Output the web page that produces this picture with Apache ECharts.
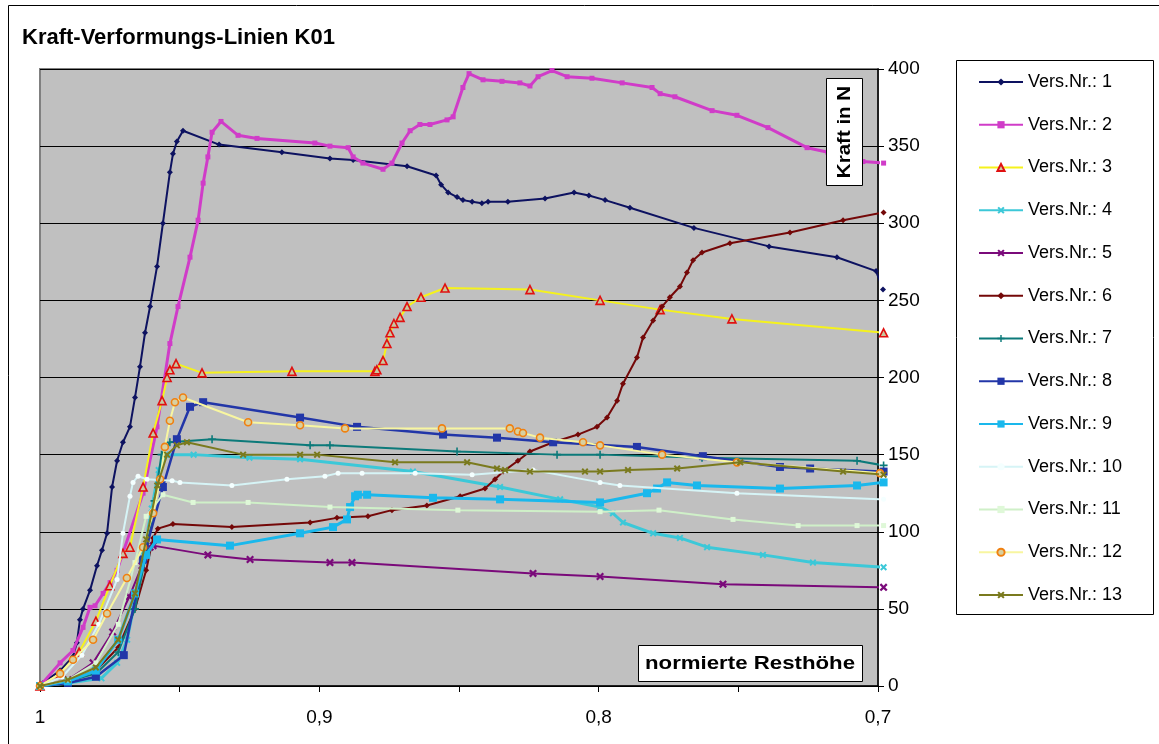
<!DOCTYPE html>
<html><head><meta charset="utf-8">
<script src="https://cdn.jsdelivr.net/npm/echarts@6/dist/echarts.min.js"></script>
<style>html,body{margin:0;padding:0;background:#fff}#c{width:1159px;height:744px}</style>
</head><body><div id="c"></div>
<script>
// ---- data: [normierte Resthöhe, Kraft in N] ----
const seriesNames = ['Vers.Nr.: 1','Vers.Nr.: 2','Vers.Nr.: 3','Vers.Nr.: 4','Vers.Nr.: 5','Vers.Nr.: 6','Vers.Nr.: 7','Vers.Nr.: 8','Vers.Nr.: 9','Vers.Nr.: 10','Vers.Nr.: 11','Vers.Nr.: 12','Vers.Nr.: 13'];
const xTicks = [1, 0.95, 0.9, 0.85, 0.8, 0.75, 0.7];
const yTicks = [0, 50, 100, 150, 200, 250, 300, 350, 400];

const s1 = [[1,0],[0.9989,2],[0.9928,10],[0.9882,19],[0.9868,28],[0.9857,43],[0.9846,50],[0.9821,62],[0.9796,78],[0.9778,88],[0.9760,99],[0.9742,129],[0.9724,146],[0.9703,158],[0.9678,168],[0.9660,187],[0.9642,207],[0.9624,229],[0.9606,246],[0.9581,272],[0.9560,300],[0.9535,333],[0.9524,345],[0.9510,353],[0.9488,360],[0.9359,351],[0.9134,346],[0.8962,342],[0.8879,341],[0.8686,337],[0.8582,331],[0.8564,325],[0.8539,320],[0.8507,317],[0.8486,315],[0.8453,314],[0.8418,313],[0.8396,314],[0.8325,314],[0.8192,316],[0.8088,320],[0.8035,318],[0.7977,315],[0.7888,310],[0.7659,297],[0.7390,285],[0.7147,278],[0.7007,269],[0.6982,257]];
const s2 = [[1,0],[0.9928,15],[0.9882,23],[0.9846,38],[0.9821,51],[0.9803,52],[0.9774,60],[0.9749,67],[0.9724,75],[0.9631,125],[0.9581,168],[0.9535,222],[0.9506,246],[0.9463,278],[0.9434,302],[0.9416,326],[0.9399,343],[0.9384,359],[0.9352,366],[0.9291,357],[0.9223,355],[0.9016,352],[0.8962,350],[0.8897,349],[0.8879,343],[0.8844,339],[0.8772,335],[0.8740,339],[0.8704,352],[0.8675,360],[0.8640,364],[0.8604,364],[0.8543,367],[0.8521,369],[0.8486,388],[0.8464,397],[0.8414,393],[0.8346,392],[0.8282,391],[0.8246,389],[0.8217,395],[0.8167,399],[0.8113,395],[0.8024,394],[0.7916,391],[0.7809,388],[0.7780,384],[0.7727,382],[0.7594,373],[0.7505,370],[0.7394,362],[0.7254,349],[0.7179,346],[0.7054,340],[0.698,339]];
const s3 = [[1,0],[0.9928,8],[0.986,22],[0.980,42],[0.975,65],[0.9703,86],[0.9678,90],[0.9631,129],[0.9595,164],[0.9563,185],[0.9545,200],[0.9535,205],[0.9513,209],[0.9420,203],[0.9098,204],[0.8801,204],[0.8794,205],[0.8772,211],[0.8758,222],[0.8747,229],[0.8733,235],[0.8711,239],[0.8686,246],[0.8636,252],[0.8550,258],[0.8246,257],[0.7995,250],[0.7780,244],[0.7523,238],[0.698,229]];
const s4 = [[1,0],[0.99,2],[0.978,5],[0.9724,15],[0.9688,30],[0.9660,55],[0.9630,85],[0.9600,115],[0.9575,140],[0.9550,150],[0.945,150],[0.925,148],[0.9069,147],[0.8665,139],[0.8353,129],[0.8138,121],[0.7995,116],[0.7949,112],[0.7913,106],[0.7805,99],[0.7709,96],[0.7612,90],[0.7412,85],[0.7233,80],[0.698,77]];
const s5 = [[1,0],[0.99,4],[0.981,15],[0.974,35],[0.968,58],[0.9635,78],[0.9606,90],[0.9595,91],[0.9399,85],[0.9248,82],[0.8962,80],[0.8883,80],[0.8235,73],[0.7995,71],[0.7555,66],[0.698,64]];
const s6 = [[1,0],[0.99,3],[0.98,10],[0.972,25],[0.966,50],[0.962,75],[0.9595,96],[0.9578,102],[0.9524,105],[0.9313,103],[0.9033,106],[0.8937,109],[0.8826,110],[0.8740,114],[0.8615,117],[0.8496,123],[0.8407,128],[0.8371,134],[0.8342,139],[0.8289,146],[0.8246,152],[0.8163,158],[0.8074,163],[0.8006,168],[0.7970,174],[0.7934,185],[0.7913,196],[0.7863,213],[0.7841,226],[0.7805,237],[0.7773,246],[0.7745,252],[0.7709,259],[0.7684,268],[0.7662,276],[0.7630,281],[0.7530,287],[0.7315,294],[0.7125,302],[0.698,307]];
const s7 = [[1,0],[0.99,3],[0.98,8],[0.972,22],[0.966,50],[0.962,85],[0.959,120],[0.9565,150],[0.9535,158],[0.9384,160],[0.9033,156],[0.8962,156],[0.8507,152],[0.8149,150],[0.7995,150],[0.7630,148],[0.7075,146],[0.698,143]];
const s8 = [[1,0],[0.99,2],[0.98,6],[0.97,20],[0.9631,82],[0.9560,129],[0.9510,160],[0.9463,181],[0.9416,184],[0.9069,174],[0.8865,168],[0.8557,163],[0.8364,161],[0.8163,158],[0.7863,155],[0.7627,149],[0.7351,142],[0.7243,141],[0.698,139]];
const s9 = [[1,0],[0.99,3],[0.98,10],[0.972,30],[0.966,60],[0.9620,85],[0.9581,95],[0.9320,91],[0.9069,99],[0.8951,103],[0.8901,108],[0.8890,116],[0.8872,123],[0.8862,124],[0.8829,124],[0.8593,122],[0.8353,121],[0.7995,119],[0.7827,125],[0.7791,128],[0.7755,132],[0.7648,130],[0.7351,128],[0.7075,130],[0.698,132]];
const s10 = [[1,0],[0.992,6],[0.985,20],[0.979,40],[0.9724,69],[0.9703,99],[0.9678,123],[0.9667,132],[0.9649,136],[0.9617,134],[0.9527,133],[0.9499,132],[0.9313,130],[0.9116,134],[0.8980,136],[0.8933,138],[0.8847,138],[0.8657,138],[0.8453,137],[0.8235,140],[0.7995,132],[0.7924,130],[0.7505,125],[0.698,121]];
const s11 = [[1,0],[0.99,4],[0.98,15],[0.972,40],[0.966,80],[0.962,110],[0.9560,124],[0.9452,119],[0.9255,119],[0.8962,116],[0.8504,114],[0.7995,113],[0.7784,114],[0.7519,108],[0.7286,104],[0.7075,104],[0.698,104]];
const s12 = [[1,0],[0.9928,8],[0.9882,17],[0.9810,30],[0.9760,47],[0.9689,70],[0.9631,90],[0.9595,112],[0.9570,134],[0.9553,155],[0.9535,172],[0.9517,184],[0.9488,187],[0.9255,171],[0.9069,169],[0.8908,167],[0.8561,167],[0.8318,167],[0.8289,165],[0.8271,164],[0.8210,161],[0.8056,158],[0.7995,156],[0.7773,150],[0.7505,145],[0.6993,138]];
const s13 = [[1,0],[0.99,4],[0.98,12],[0.972,30],[0.966,60],[0.962,95],[0.958,130],[0.9545,150],[0.9510,156],[0.9474,158],[0.9273,150],[0.9069,150],[0.9008,150],[0.8729,145],[0.8471,145],[0.8364,141],[0.8335,140],[0.8246,139],[0.8049,139],[0.7995,139],[0.7895,140],[0.7719,141],[0.7493,145],[0.7125,139],[0.698,137]];

// ---- styling ----
const FONT = '"Liberation Sans", Arial, sans-serif';
const SYM_X = 'path://M2,0L5,3L8,0L10,2L7,5L10,8L8,10L5,7L2,10L0,8L3,5L0,2Z';
const SYM_PLUS = 'path://M4,0H6V4H10V6H6V10H4V6H0V4H4Z';
const SYM_DASH = 'path://M0,3.5H10V6.5H0Z';
const styles = [
  {line:'#0d1260', sym:'diamond', size:6, fill:'#0d1260', w:2},
  {line:'#d03cc8', sym:'rect', size:5, fill:'#d03cc8', w:3},
  {line:'#f5f21c', sym:'triangle', size:8, fill:'#c8c8a0', border:'#e01010', w:2},
  {line:'#3cc8d8', sym:SYM_X, size:7, fill:'#3cc8d8', w:3},
  {line:'#7a0a7a', sym:SYM_X, size:8, fill:'#7a0a7a', w:2},
  {line:'#740808', sym:'diamond', size:6, fill:'#740808', w:2},
  {line:'#0c7a7a', sym:SYM_PLUS, size:8, fill:'#0c7a7a', w:2},
  {line:'#2236a8', sym:SYM_DASH, size:8, fill:'#2236a8', w:2.5},
  {line:'#1ab8ec', sym:SYM_DASH, size:8, fill:'#1ab8ec', w:3},
  {line:'#d6f4f6', sym:'circle', size:5, fill:'#f4ffff', w:2},
  {line:'#cff0c8', sym:'rect', size:5, fill:'#dff8d8', w:2},
  {line:'#f8f6a0', sym:'circle', size:7, fill:'#d8d0a0', border:'#f08010', w:2},
  {line:'#7a7a1e', sym:SYM_X, size:7, fill:'#7a7a1e', w:2}
];
const allData = [s1,s2,s3,s4,s5,s6,s7,s8,s9,s10,s11,s12,s13];

const series = allData.map((d, i) => {
  const st = styles[i];
  return {
    name: seriesNames[i], type: 'line', data: d, smooth: false, clip: false,
    symbol: st.sym, symbolSize: st.size, showSymbol: true,
    lineStyle: {color: st.line, width: st.w},
    itemStyle: st.border ? {color: st.fill, borderColor: st.border, borderWidth: 1.6} : {color: st.fill, borderWidth: 0},
    emphasis: {disabled: true}, z: 2 + i
  };
});

const chart = echarts.init(document.getElementById('c'), null, {renderer: 'canvas'});
chart.setOption({
  animation: false,
  backgroundColor: '#fff',
  textStyle: {fontFamily: FONT},
  grid: {left: 40, right: 281, top: 69, bottom: 58, show: true, backgroundColor: '#c0c0c0', borderColor: '#808080', borderWidth: 2},
  xAxis: {
    type: 'value', min: 0.7, max: 1, interval: 0.05, inverse: true,
    axisLine: {onZero: false, lineStyle: {color: '#000', width: 1.5}},
    axisTick: {inside: false, length: 6, lineStyle: {color: '#000'}},
    axisLabel: {fontSize: 19, color: '#000', fontFamily: FONT, margin: 22,
      formatter: v => { const r = Math.round(v * 100); return (r % 10 === 0) ? (r === 100 ? '1' : String(r / 100).replace('.', ',')) : ''; }},
    splitLine: {show: false}
  },
  yAxis: {
    type: 'value', position: 'right', min: 0, max: 400, interval: 50,
    axisLine: {show: true, lineStyle: {color: '#000', width: 1.5}},
    axisTick: {show: true, inside: false, length: 6, lineStyle: {color: '#000'}},
    axisLabel: {fontSize: 19, color: '#000', fontFamily: FONT, margin: 10},
    splitLine: {show: true, lineStyle: {color: '#000', width: 1}}
  },
  legend: {
    orient: 'vertical', left: 973, top: 68, itemWidth: 44, itemHeight: 9, itemGap: 24.75,
    textStyle: {fontSize: 18, color: '#000', fontFamily: FONT, padding: [0, 0, 0, 0]}, data: seriesNames
  },
  graphic: [
    {type: 'rect', shape: {x: 8.5, y: 5.5, width: 1160, height: 760}, style: {fill: 'none', stroke: '#000', lineWidth: 1}, silent: true, z: 0},
    {type: 'text', left: 22, top: 27, style: {text: 'Kraft-Verformungs-Linien K01', font: 'bold 22px ' + FONT, fill: '#000'}},
    {type: 'rect', shape: {x: 956.5, y: 60.5, width: 197, height: 554}, style: {fill: '#fff', stroke: '#000', lineWidth: 1}, z: -1, silent: true},
    {type: 'rect', shape: {x: 826.5, y: 78.5, width: 36, height: 107}, style: {fill: '#fff', stroke: '#000', lineWidth: 1}, z: 50},
    {type: 'text', x: 845, y: 132, rotation: Math.PI / 2, scaleX: 1.14, style: {text: 'Kraft in N', font: 'bold 18px ' + FONT, fill: '#000', align: 'center', verticalAlign: 'middle'}, z: 51},
    {type: 'rect', shape: {x: 638.5, y: 645.5, width: 224, height: 36}, style: {fill: '#fff', stroke: '#000', lineWidth: 1}, z: 50},
    {type: 'text', x: 750, y: 664, scaleX: 1.17, style: {text: 'normierte Resthöhe', font: 'bold 19px ' + FONT, fill: '#000', align: 'center', verticalAlign: 'middle'}, z: 51}
  ],
  series: series
});
</script></body></html>
